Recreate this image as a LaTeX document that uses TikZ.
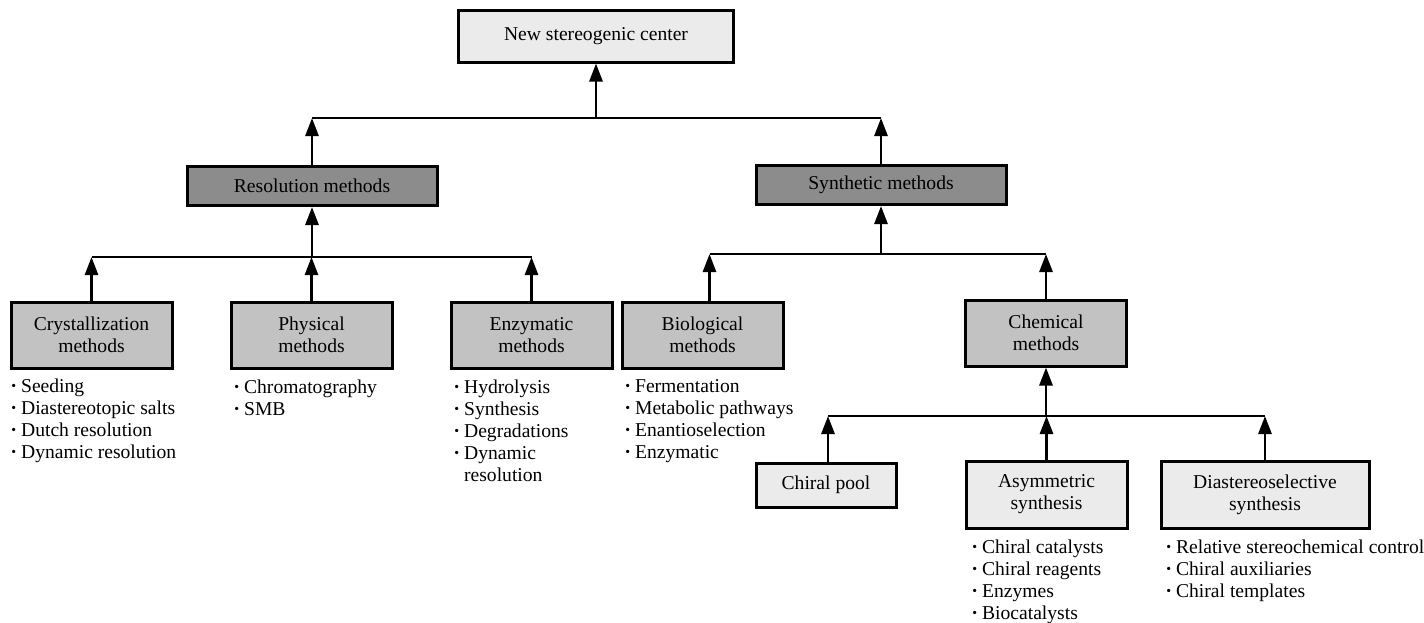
\documentclass[tikz,border=0pt]{standalone}
\usepackage{fontspec}
\setmainfont{Liberation Serif}
\usetikzlibrary{positioning,arrows.meta}
\definecolor{lightfill}{gray}{0.92}
\definecolor{midfill}{gray}{0.76}
\definecolor{darkfill}{gray}{0.55}
\newcommand\itm{\raisebox{0.2ex}{\scalebox{0.7}{\textbullet}}\ }

\begin{document}
\begin{tikzpicture}[x=0.5pt, y=-0.5pt, >={Triangle[length=9pt,width=6.5pt]},
    font=\fontsize{9.8}{11}\selectfont, line width=1.4pt]
  \tikzset{
    lbox/.style={draw, fill=lightfill, line width=1.5pt, align=center, inner sep=0pt},
    mbox/.style={lbox, fill=midfill, minimum width=80.5pt, minimum height=33pt},
    dbox/.style={lbox, fill=darkfill, minimum width=125pt, minimum height=19.5pt},
    list/.style={anchor=north west, align=left, inner sep=0pt},
  }
  \useasboundingbox (0,0) rectangle (1424,622);
  % boxes
  \node[lbox, minimum width=137.5pt, minimum height=26pt] (top) at (596,36) {New stereogenic center};
  \node[dbox] (res) at (312,186) {Resolution methods};
  \node[dbox] (syn) at (881,185) {Synthetic methods};
  \node[mbox] (cry) at (91.5,335) {Crystallization\\methods};
  \node[mbox] (phy) at (311.5,335) {Physical\\methods};
  \node[mbox] (enz) at (531.5,335) {Enzymatic\\methods};
  \node[mbox] (bio) at (702.5,335) {Biological\\methods};
  \node[mbox] (che) at (1046,333) {Chemical\\methods};
  \node[lbox, minimum width=70pt, minimum height=22pt] (pool) at (826,485) {Chiral pool};
  \node[lbox, minimum width=80.5pt, minimum height=33.5pt] (asy) at (1046.5,494.5) {Asymmetric\\synthesis};
  \node[lbox, minimum width=104pt, minimum height=33.5pt] (dia) at (1265,494.5) {Diastereoselective\\synthesis};
  % bars
  \coordinate (b1) at (596,118);
  \coordinate (b2) at (312,257);
  \coordinate (b3) at (881,254);
  \coordinate (b4) at (1046,416);
  \draw[->] (b1) -- (top.south);
  \draw (res.north |- b1) -- (syn.north |- b1);
  \draw[->] (res.north) -- (res.north |- b1);
  \draw[->] (syn.north) -- (syn.north |- b1);
  \draw[->] (b2) -- (res.south);
  \draw (cry.north |- b2) -- (enz.north |- b2);
  \foreach \n in {cry,phy,enz}
    \draw[->] (\n.north) -- (\n.north |- b2);
  \draw[->] (b3) -- (syn.south);
  \draw ([xshift=3.5pt]bio.north |- b3) -- (che.north |- b3);
  \draw[->] ([xshift=3.5pt]bio.north) -- ([xshift=3.5pt]bio.north |- b3);
  \draw[->] (che.north) -- (che.north |- b3);
  \draw[->] (b4) -- (che.south);
  \draw ([xshift=1pt]pool.north |- b4) -- (dia.north |- b4);
  \draw[->] ([xshift=1pt]pool.north) -- ([xshift=1pt]pool.north |- b4);
  \draw[->] (asy.north) -- (asy.north |- b4);
  \draw[->] (dia.north) -- (dia.north |- b4);
  % lists
  \node[list] (cryl) at (10,377) {\itm Seeding\\\itm Diastereotopic salts\\\itm Dutch resolution\\\itm Dynamic resolution};
  \node[list] (phyl) at (233,378) {\itm Chromatography\\\itm SMB};
  \node[list] (enzl) at (453,378) {\itm Hydrolysis\\\itm Synthesis\\\itm Degradations\\\itm Dynamic\\\phantom{\itm}resolution};
  \node[list] (biol) at (624,378) {\itm Fermentation\\\itm Metabolic pathways\\\itm Enantioselection\\\itm Enzymatic};
  \node[list] (asyl) at (971,538) {\itm Chiral catalysts\\\itm Chiral reagents\\\itm Enzymes\\\itm Biocatalysts};
  \node[list] (dial) at (1165,538) {\itm Relative stereochemical control\\\itm Chiral auxiliaries\\\itm Chiral templates};
\end{tikzpicture}
\end{document}
